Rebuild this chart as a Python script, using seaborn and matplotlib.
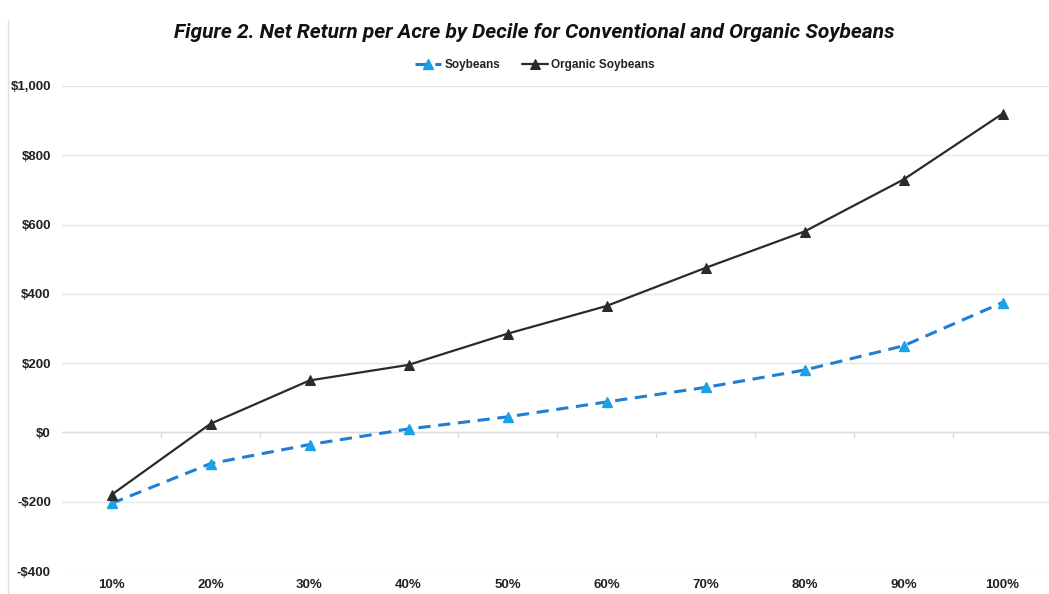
import matplotlib
matplotlib.use("Agg")
import matplotlib.pyplot as plt
import seaborn as sns
import pandas as pd
from matplotlib.ticker import FuncFormatter, MultipleLocator

deciles = ["10%", "20%", "30%", "40%", "50%", "60%", "70%", "80%", "90%", "100%"]
soybeans = [-205, -90, -35, 10, 45, 88, 130, 180, 250, 375]
organic = [-180, 25, 150, 195, 285, 365, 475, 580, 730, 920]

df = pd.DataFrame({"Decile": deciles * 2,
                   "Value": soybeans + organic,
                   "Series": ["Soybeans"] * len(deciles) + ["Organic Soybeans"] * len(deciles)})

sns.set_theme(style="white")
plt.rcParams['font.family'] = ['Liberation Sans', 'DejaVu Sans']

fig = plt.figure(figsize=(10.49, 5.94), dpi=100)
ax = fig.add_axes([62/1049, 1 - 571/594, (1052-62)/1049, (571-86)/594])

x = list(range(len(deciles)))
ax.plot(x, soybeans, color="#1f7fd4", lw=2.2, ls=(0, (4, 2.5)), marker="^",
        markersize=7, markerfacecolor="#1ba1e8", markeredgecolor="#1ba1e8",
        label="Soybeans", zorder=3)
sns.lineplot(data=df[df.Series == "Organic Soybeans"], x="Decile", y="Value", ax=ax,
             color="#2b2b2b", lw=1.6, marker="^", markersize=7,
             markeredgecolor="#2b2b2b", label="Organic Soybeans", zorder=4, sort=False)

ax.set_xlim(-0.5, len(deciles) - 0.5)
ax.set_ylim(-400, 1000)
ax.yaxis.set_major_locator(MultipleLocator(200))
ax.yaxis.set_major_formatter(FuncFormatter(lambda v, p: f"-${abs(v):,.0f}" if v < 0 else f"${v:,.0f}"))
ax.set_xticks(x)
ax.set_xticklabels(deciles)
ax.grid(axis="y", color="#e6e6e6", lw=1)
ax.axhline(0, color="#dcdcdc", lw=1, zorder=1)
for b in range(1, len(deciles)):
    ax.plot([b - 0.5, b - 0.5], [0, -12], color="#dcdcdc", lw=1, zorder=1)
for s in ax.spines.values():
    s.set_visible(False)
ax.set_xlabel("")
ax.set_ylabel("")
ax.tick_params(axis="both", length=0, labelsize=9.5, pad=8)
for lab in ax.get_xticklabels() + ax.get_yticklabels():
    lab.set_fontweight("bold")
    lab.set_color("#222222")
ax.tick_params(axis="x", pad=6)

leg = ax.legend(loc="center", bbox_to_anchor=(535/1049, 1 - 65/594), bbox_transform=fig.transFigure,
                ncol=2, frameon=False, fontsize=8.5, handlelength=2.2, columnspacing=1.8,
                handletextpad=0.3)
for t in leg.get_texts():
    t.set_fontweight("bold")
    t.set_color("#222222")

fig.text(534/1049, 1 - 32/594, "Figure 2. Net Return per Acre by Decile for Conventional and Organic Soybeans",
         ha="center", va="center", fontsize=15, fontweight="bold", style="italic",
         family=["Roboto", "DejaVu Sans"], color="#111111")

fig.add_artist(plt.Line2D([8/1049, 8/1049], [0, 1 - 20/594], color="#e0e0e0", lw=1))

fig.savefig("out.png", dpi=100, facecolor="white")
